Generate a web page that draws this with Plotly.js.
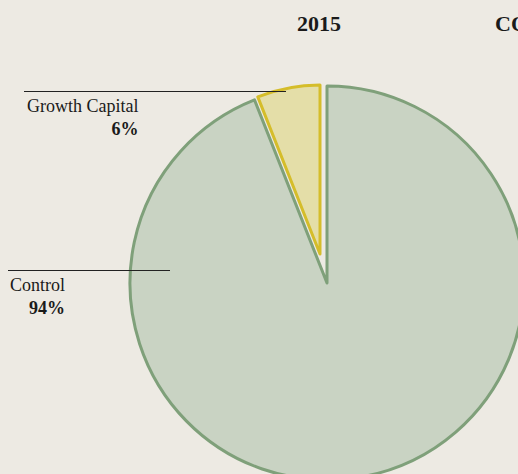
<!DOCTYPE html>
<html>
<head>
<meta charset="utf-8">
<script src="https://cdn.plot.ly/plotly-3.0.1.min.js"></script>
<style>
html, body { margin: 0; padding: 0; overflow: hidden; background: #edeae3; }
#chart { width: 560px; height: 500px; }
</style>
</head>
<body>
<div id="chart"></div>
<script>
// Data
const labels = ["Control", "Growth Capital"];
const values = [94, 6];
const percentLabels = ["94%", "6%"];
const chartTitle = "2015";
const nextTitle = "CO";

// Styles
const W = 560, H = 500;
const bg = "#edeae3";
const controlFill = "#c9d3c3";
const controlLine = "#7fa07a";
const growthFill = "#e4dea8";
const growthLine = "#d5bd2a";
const clear = "rgba(0,0,0,0)";
const px = (x) => x / W;
const py = (y) => 1 - y / H;

function domainFor(cx, cy, r) {
  return { x: [px(cx - r), px(cx + r)], y: [py(cy + r), py(cy - r)] };
}

const common = {
  type: "pie",
  labels: labels,
  values: values,
  sort: false,
  direction: "clockwise",
  rotation: 0,
  textinfo: "none",
  hoverinfo: "label+percent",
  showlegend: false
};

const traceControl = Object.assign({}, common, {
  domain: domainFor(327, 283, 197),
  marker: { colors: [controlFill, clear], line: { color: [controlLine, clear], width: 3 } }
});

const traceGrowth = Object.assign({}, common, {
  domain: domainFor(320, 254, 169),
  marker: { colors: [clear, growthFill], line: { color: [clear, growthLine], width: 3 } }
});

const font = "Liberation Serif, Times New Roman, serif";
const textColor = "#1a1a1a";

const layout = {
  width: W,
  height: H,
  margin: { l: 0, r: 0, t: 0, b: 0 },
  paper_bgcolor: bg,
  plot_bgcolor: bg,
  font: { family: font, color: textColor },
  annotations: [
    { text: "<b>" + chartTitle + "</b>", xref: "paper", yref: "paper", x: px(319), y: py(23), xanchor: "center", yanchor: "middle", showarrow: false, font: { size: 22, family: font, color: textColor } },
    { text: "<b>" + nextTitle + "</b>", xref: "paper", yref: "paper", x: px(493), y: py(23), xanchor: "left", yanchor: "middle", showarrow: false, font: { size: 22, family: font, color: textColor } },
    { text: labels[1] + "<br><b>" + percentLabels[1] + "</b>", xref: "paper", yref: "paper", x: px(140), y: py(94), xanchor: "right", yanchor: "top", align: "right", showarrow: false, font: { size: 18, family: font, color: textColor } },
    { text: labels[0] + "<br><b>" + percentLabels[0] + "</b>", xref: "paper", yref: "paper", x: px(67), y: py(273), xanchor: "right", yanchor: "top", align: "right", showarrow: false, font: { size: 18, family: font, color: textColor } }
  ],
  shapes: [
    { type: "line", xref: "paper", yref: "paper", x0: px(24), x1: px(286), y0: py(91.5), y1: py(91.5), line: { color: "#222", width: 1 } },
    { type: "line", xref: "paper", yref: "paper", x0: px(8), x1: px(170), y0: py(270.5), y1: py(270.5), line: { color: "#222", width: 1 } }
  ]
};

Plotly.newPlot("chart", [traceControl, traceGrowth], layout, { displayModeBar: false, staticPlot: true });
</script>
</body>
</html>
